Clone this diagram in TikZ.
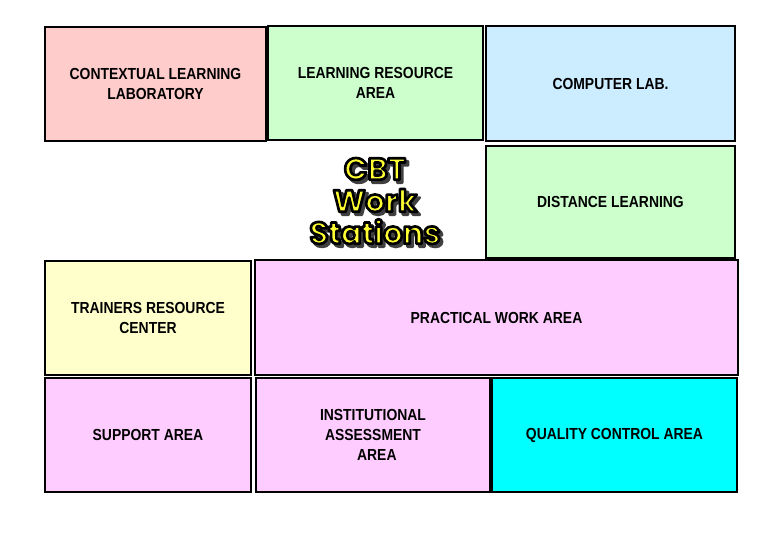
\documentclass[tikz,border=0pt]{standalone}
\usepackage{fontspec}
\setmainfont{Liberation Sans}[FakeStretch=0.87]
\newfontfamily\titlefont{Poppins}
\usetikzlibrary{shadows}

\definecolor{ctxpink}{HTML}{FFCCCC}
\definecolor{resgreen}{HTML}{CCFFCC}
\definecolor{labblue}{HTML}{CCECFF}
\definecolor{trcyellow}{HTML}{FFFFCC}
\definecolor{areapink}{HTML}{FFCCFF}
\definecolor{qcyan}{HTML}{00FFFF}
\definecolor{cbtyellow}{HTML}{FFFF33}

% letters filled and stroked; \cbtoutline strokes them in black
\newcommand{\cbtstroke}[1]{\special{pdf:literal direct 2 w 1 j 2 Tr}#1\special{pdf:literal direct 0 Tr}}
\newcommand{\cbtoutline}[1]{\special{pdf:literal direct 0 0 0 RG 2 w 1 j 2 Tr}#1\special{pdf:literal direct 0 Tr}}

\begin{document}
\begin{tikzpicture}[x=0.75pt, y=-0.75pt,
    area/.style={draw, line width=1pt, align=center, inner sep=0pt,
      font=\bfseries\fontsize{12}{15}\selectfont,
      drop shadow={shadow xshift=1pt, shadow yshift=-1pt, fill=black!60}},
    cbt/.style={align=center, inner sep=0pt,
      font=\titlefont\bfseries\fontsize{23}{24}\selectfont}]
    \useasboundingbox (0,0) rectangle (768,543);

    % top row
    \node[area, fill=ctxpink, minimum width=221*0.75pt, minimum height=114*0.75pt]
      (ctx) at (155.5,84) {CONTEXTUAL LEARNING\\LABORATORY};
    \node[area, fill=resgreen, minimum width=215*0.75pt, minimum height=114*0.75pt]
      (lrc) at (375.5,83) {LEARNING RESOURCE\\AREA};
    \node[area, fill=labblue, minimum width=249*0.75pt, minimum height=115*0.75pt]
      (lab) at (610.5,83.5) {COMPUTER LAB.};
    \node[area, fill=resgreen, minimum width=249*0.75pt, minimum height=112*0.75pt]
      (dist) at (610.5,202) {DISTANCE LEARNING};

    % middle row
    \node[area, fill=trcyellow, minimum width=206*0.75pt, minimum height=114*0.75pt]
      (trc) at (148,318) {TRAINERS RESOURCE\\CENTER};
    \node[area, fill=areapink, minimum width=483*0.75pt, minimum height=115*0.75pt]
      (prac) at (496.5,317.5) {PRACTICAL WORK AREA};

    % bottom row
    \node[area, fill=areapink, minimum width=206*0.75pt, minimum height=114*0.75pt]
      (sup) at (148,435) {SUPPORT AREA};
    \node[area, fill=areapink, minimum width=234*0.75pt, minimum height=114*0.75pt]
      (inst) at (373,435) {INSTITUTIONAL\\ASSESSMENT\\\ \ AREA};
    \node[area, fill=qcyan, minimum width=245*0.75pt, minimum height=114*0.75pt]
      (qual) at (614.5,435) {QUALITY CONTROL AREA};

    % title with its shadow
    \node[cbt, text=black!75, shift={(2.2pt,-2.2pt)}] (titleshadow) at (375,201)
      {\cbtstroke{CBT}\\\cbtstroke{Work}\\\cbtstroke{Stations}};
    \node[cbt, text=cbtyellow] (title) at (375,201)
      {\cbtoutline{CBT}\\\cbtoutline{Work}\\\cbtoutline{Stations}};
\end{tikzpicture}
\end{document}
